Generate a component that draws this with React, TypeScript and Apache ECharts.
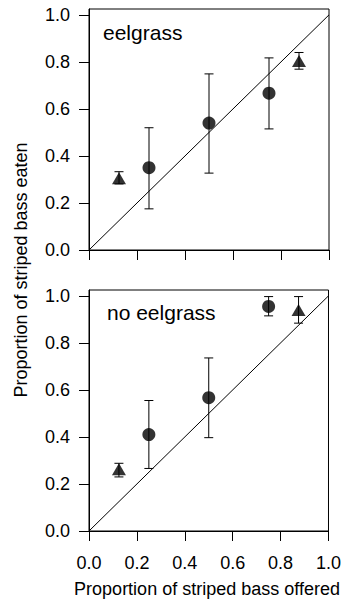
import React, { useEffect, useRef } from "react";
import * as echarts from "echarts";

// ---- data ----
const tickValues = [0, 0.2, 0.4, 0.6, 0.8, 1.0];

// eelgrass panel
const eelCircleX = [0.25, 0.5, 0.75];
const eelCircleY = [0.35, 0.54, 0.667];
const eelCircleLow = [0.175, 0.327, 0.515];
const eelCircleHigh = [0.52, 0.749, 0.817];
const eelTriX = [0.125, 0.875];
const eelTriY = [0.305, 0.804];
const eelTriLow = [0.281, 0.769];
const eelTriHigh = [0.333, 0.84];

// no eelgrass panel
const noCircleX = [0.25, 0.5, 0.75];
const noCircleY = [0.41, 0.567, 0.955];
const noCircleLow = [0.266, 0.397, 0.915];
const noCircleHigh = [0.555, 0.736, 0.997];
const noTriX = [0.125, 0.875];
const noTriY = [0.263, 0.94];
const noTriLow = [0.23, 0.884];
const noTriHigh = [0.288, 0.997];

const diagonal = [
  [0, 0],
  [1, 1],
];

const panelLabels = ["eelgrass", "no eelgrass"];
const xTitle = "Proportion of striped bass offered";
const yTitle = "Proportion of striped bass eaten";

const FONT = "'Liberation Sans', Arial, Helvetica, sans-serif";

function zip2(xs: number[], ys: number[]) {
  return xs.map((x, i) => [x, ys[i]]);
}
function zip3(xs: number[], lo: number[], hi: number[]) {
  return xs.map((x, i) => [x, lo[i], hi[i]]);
}

const errorRender = (params: any, api: any) => {
  const x = api.value(0);
  const lo = api.coord([x, api.value(1)]);
  const hi = api.coord([x, api.value(2)]);
  const cap = 4.5;
  const style = { stroke: "#000", lineWidth: 1 };
  return {
    type: "group",
    children: [
      { type: "line", shape: { x1: lo[0], y1: lo[1], x2: hi[0], y2: hi[1] }, style },
      { type: "line", shape: { x1: lo[0] - cap, y1: lo[1], x2: lo[0] + cap, y2: lo[1] }, style },
      { type: "line", shape: { x1: hi[0] - cap, y1: hi[1], x2: hi[0] + cap, y2: hi[1] }, style },
    ],
  };
};

export default function App() {
  const ref = useRef<HTMLDivElement>(null);

  useEffect(() => {
    document.body.style.margin = "0";
    if (!ref.current) return;
    const chart = echarts.init(ref.current, null, { renderer: "svg" });

    const mkX = (gridIndex: number, showLabels: boolean) => ({
      type: "value",
      gridIndex,
      min: 0,
      max: 1,
      interval: 0.2,
      axisLine: { show: true, lineStyle: { color: "#000", width: 1 } },
      axisTick: { show: true, length: 10, inside: false, lineStyle: { color: "#000", width: 1 } },
      axisLabel: {
        show: showLabels,
        margin: 23,
        color: "#000",
        fontSize: 18,
        fontFamily: FONT,
        formatter: (v: number) => v.toFixed(1),
      },
      splitLine: { show: false },
    });

    const mkY = (gridIndex: number) => ({
      type: "value",
      gridIndex,
      min: 0,
      max: 1.025,
      axisLine: { show: true, lineStyle: { color: "#000", width: 1 } },
      axisTick: {
        show: true,
        length: 10,
        inside: false,
        customValues: tickValues,
        lineStyle: { color: "#000", width: 1 },
      },
      axisLabel: {
        show: true,
        margin: 19,
        color: "#000",
        fontSize: 18,
        fontFamily: FONT,
        customValues: tickValues,
        formatter: (v: number) => v.toFixed(1),
      },
      splitLine: { show: false },
    });

    const gridBase = {
      left: 89,
      width: 240,
      height: 241,
      show: true,
      borderColor: "#000",
      borderWidth: 1,
      backgroundColor: "transparent",
    };

    const panelSeries = (
      idx: number,
      cx: number[],
      cy: number[],
      clo: number[],
      chi: number[],
      tx: number[],
      ty: number[],
      tlo: number[],
      thi: number[]
    ) => [
      {
        type: "line",
        xAxisIndex: idx,
        yAxisIndex: idx,
        data: diagonal,
        symbol: "none",
        lineStyle: { color: "#000", width: 1 },
        silent: true,
      },
      {
        type: "custom",
        xAxisIndex: idx,
        yAxisIndex: idx,
        renderItem: errorRender,
        encode: { x: 0, y: [1, 2] },
        data: zip3(cx, clo, chi),
      },
      {
        type: "custom",
        xAxisIndex: idx,
        yAxisIndex: idx,
        renderItem: errorRender,
        encode: { x: 0, y: [1, 2] },
        data: zip3(tx, tlo, thi),
      },
      {
        type: "scatter",
        xAxisIndex: idx,
        yAxisIndex: idx,
        symbol: "circle",
        symbolSize: 13,
        itemStyle: { color: "#000" },
        data: zip2(cx, cy),
      },
      {
        type: "scatter",
        xAxisIndex: idx,
        yAxisIndex: idx,
        symbol: "triangle",
        symbolSize: [14, 12],
        itemStyle: { color: "#000" },
        data: zip2(tx, ty),
      },
    ];

    chart.setOption({
      animation: false,
      backgroundColor: "#fff",
      grid: [
        { ...gridBase, top: 9 },
        { ...gridBase, top: 290 },
      ],
      xAxis: [mkX(0, false), mkX(1, true)],
      yAxis: [mkY(0), mkY(1)],
      series: [
        ...panelSeries(0, eelCircleX, eelCircleY, eelCircleLow, eelCircleHigh, eelTriX, eelTriY, eelTriLow, eelTriHigh),
        ...panelSeries(1, noCircleX, noCircleY, noCircleLow, noCircleHigh, noTriX, noTriY, noTriLow, noTriHigh),
      ],
      graphic: [
        {
          type: "text",
          left: 103,
          top: 22,
          style: { text: panelLabels[0], fontSize: 21, fontFamily: FONT, fill: "#000" },
        },
        {
          type: "text",
          left: 107,
          top: 302,
          style: { text: panelLabels[1], fontSize: 21, fontFamily: FONT, fill: "#000" },
        },
        {
          type: "text",
          x: 207,
          y: 589,
          style: {
            text: xTitle,
            fontSize: 18,
            fontFamily: FONT,
            fill: "#000",
            align: "center",
            verticalAlign: "middle",
          },
        },
        {
          type: "text",
          x: 21,
          y: 270,
          rotation: Math.PI / 2,
          style: {
            text: yTitle,
            fontSize: 18,
            fontFamily: FONT,
            fill: "#000",
            align: "center",
            verticalAlign: "middle",
          },
        },
      ],
    });

    return () => chart.dispose();
  }, []);

  return <div ref={ref} style={{ width: 344, height: 606 }} />;
}
